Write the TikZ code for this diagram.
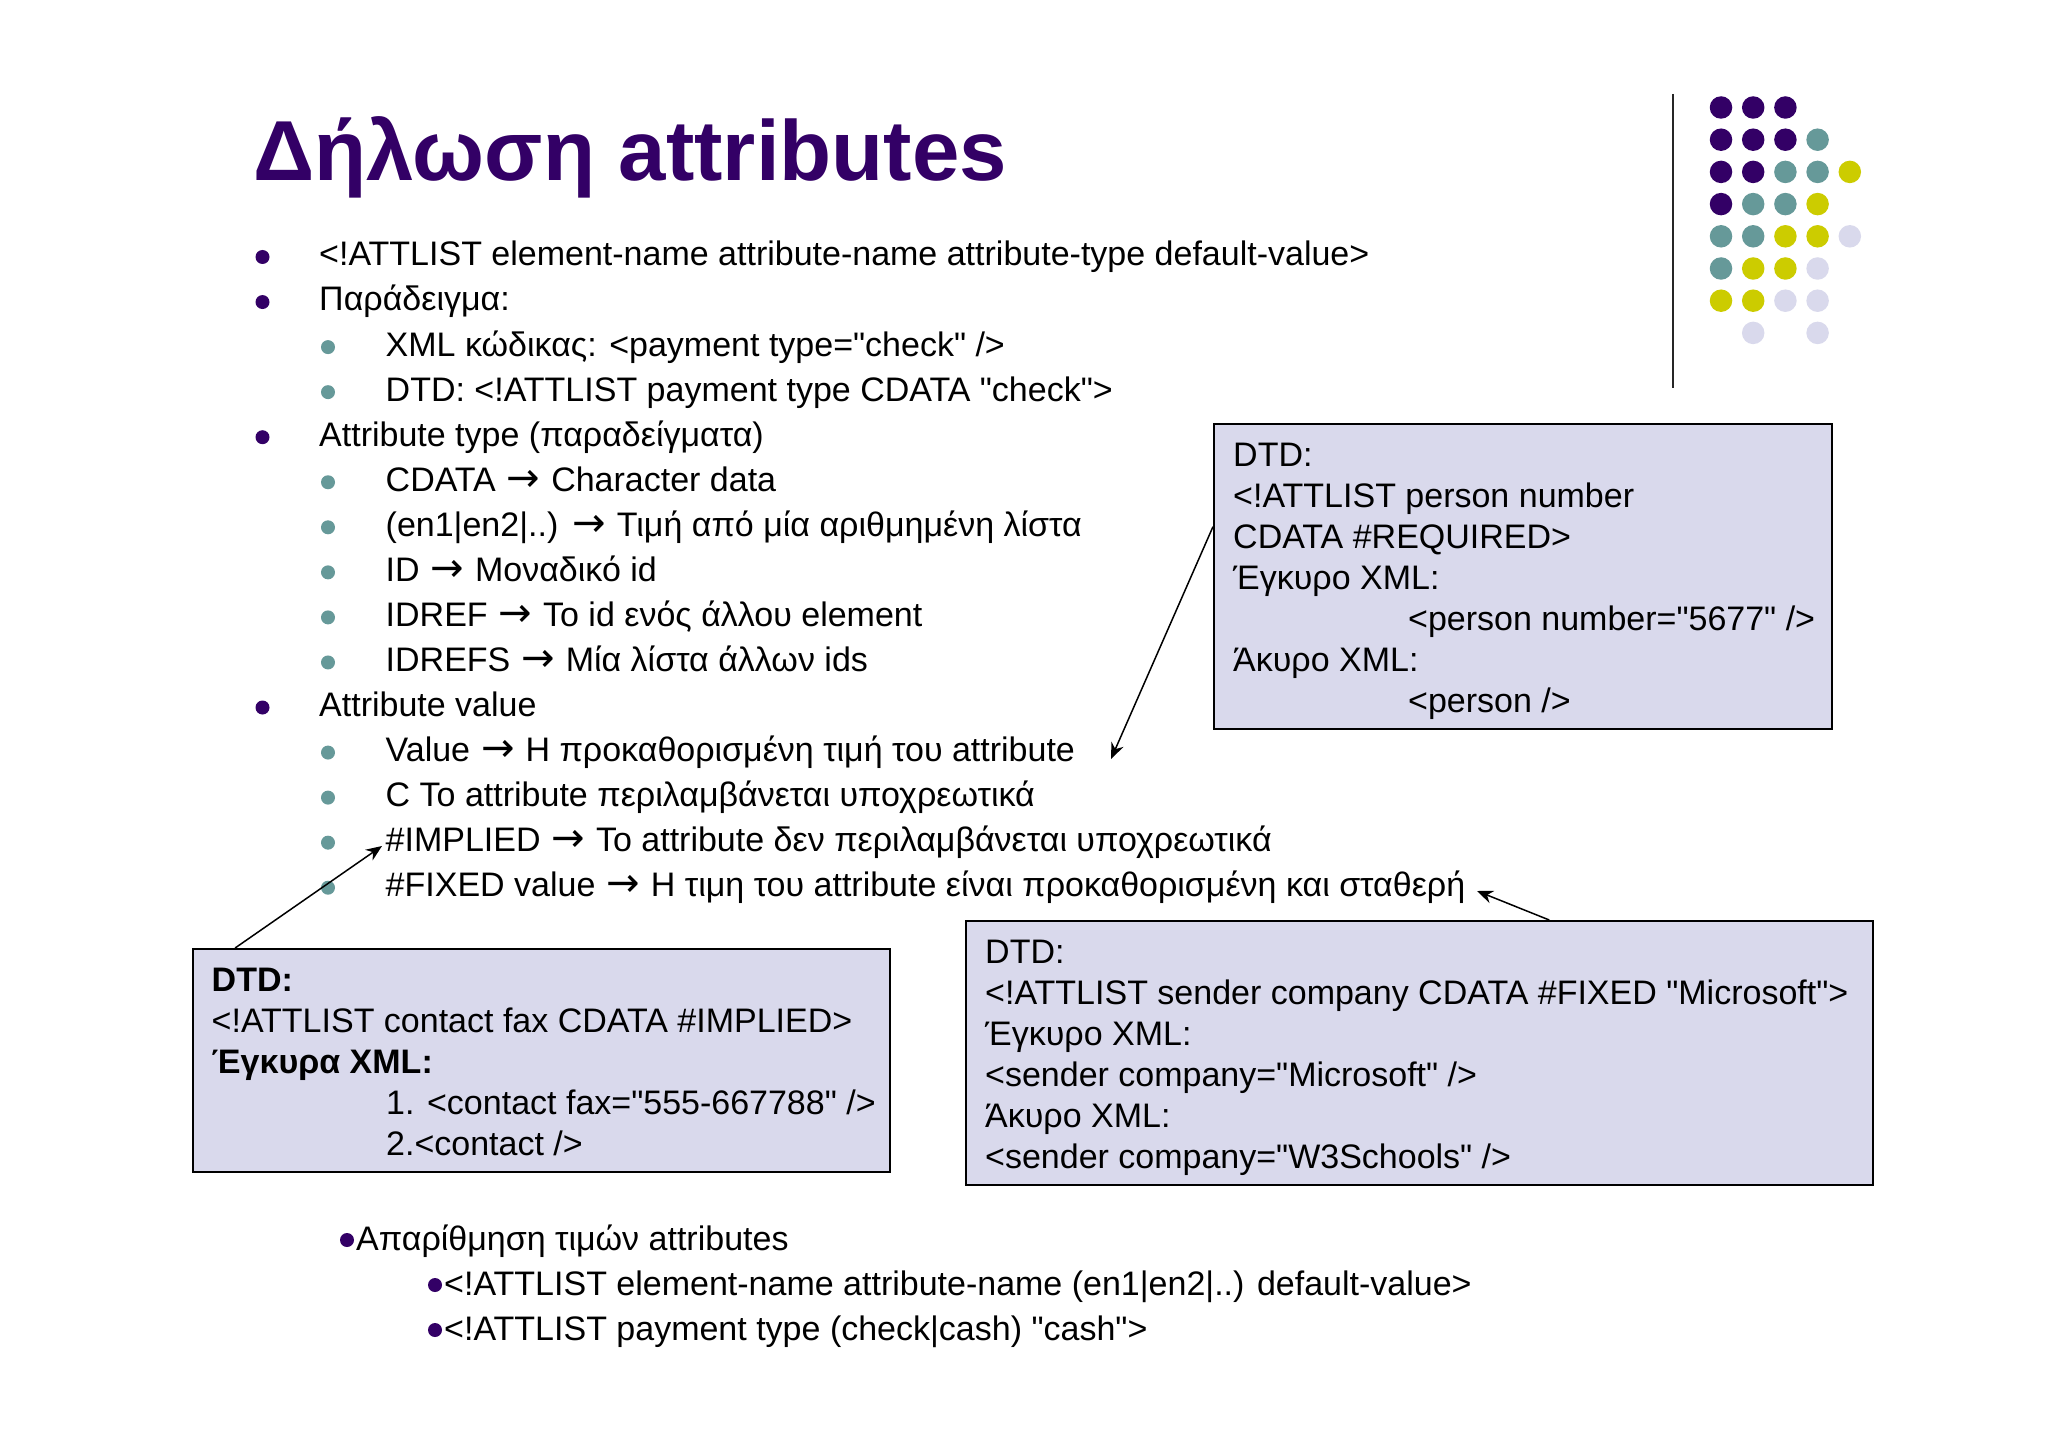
\documentclass[tikz,border=0pt]{standalone}
\usepackage{fontspec}
\setmainfont{Liberation Sans}[Ligatures=TeXOff]
\newfontfamily\arrowfont{DejaVu Sans}
\newcommand{\rarr}{\hspace{1.5pt}{\arrowfont\fontsize{40}{40}\selectfont →}\hspace{1.5pt}}
\usetikzlibrary{arrows.meta,calc}
\definecolor{cpurple}{HTML}{330066}
\definecolor{cteal}{HTML}{669999}
\definecolor{cyellow}{HTML}{CCCC00}
\definecolor{clilac}{HTML}{D9D9EC}
\tikzset{
  bodytext/.style={anchor=base west,inner sep=0pt,font=\fontsize{34}{40}\selectfont,text=black},
  boxtext/.style={anchor=base west,inner sep=0pt,font=\fontsize{34}{40}\selectfont,text=black},
  boxbold/.style={boxtext,font=\fontsize{34}{40}\selectfont\bfseries},
  titletext/.style={anchor=base west,inner sep=0pt,font=\fontsize{85.2}{96}\selectfont\bfseries,text=cpurple},
  callout/.style={draw=black,line width=1.6pt,fill=clilac,anchor=north west,inner sep=0pt},
  pointer/.style={draw=black,line width=1.5pt,-{Stealth[length=16pt,width=13pt]}},
  rulebar/.style={draw=black!85,line width=2pt},
  mainbullet/.style={circle,fill=cpurple,inner sep=0pt,minimum size=14pt},
  subbullet/.style={circle,fill=cteal,inner sep=0pt,minimum size=14pt},
  smallbullet/.style={circle,fill=cpurple,inner sep=0pt,minimum size=14pt},
  dot/.style={circle,inner sep=0pt,minimum size=22.5pt}
}
\begin{document}
\begin{tikzpicture}[x=1pt,y=-1pt]
\useasboundingbox (0,0) rectangle (2048,1447);
\fill[white] (0,0) rectangle (2048,1447);
% title
\node[titletext] (title) at (253,180.5) {Δήλωση attributes};
% rule and dots
\coordinate (ruletop) at (1673,94);
\coordinate (rulebot) at (1673,388);
\draw[rulebar] (ruletop) -- (rulebot);
\foreach \c/\r/\col [count=\i] in {
 1/1/cpurple,2/1/cpurple,3/1/cpurple,
 1/2/cpurple,2/2/cpurple,3/2/cpurple,4/2/cteal,
 1/3/cpurple,2/3/cpurple,3/3/cteal,4/3/cteal,5/3/cyellow,
 1/4/cpurple,2/4/cteal,3/4/cteal,4/4/cyellow,
 1/5/cteal,2/5/cteal,3/5/cyellow,4/5/cyellow,5/5/clilac,
 1/6/cteal,2/6/cyellow,3/6/cyellow,4/6/clilac,
 1/7/cyellow,2/7/cyellow,3/7/clilac,4/7/clilac,
 2/8/clilac,4/8/clilac}
 \node[dot,fill=\col] (dot\i) at ({1721+32.2*(\c-1)},{107.5+32.2*(\r-1)}) {};
% bullets
\foreach \y [count=\i] in {1,2,5,11}
 \node[mainbullet] (mb\i) at (262.5,{266-9+45.05*(\y-1)}) {};
\foreach \y [count=\i] in {3,4,6,7,8,9,10,12,13,14,15}
 \node[subbullet] (sb\i) at (328,{266-9+45.05*(\y-1)}) {};
% main text
\node[bodytext] (l1) at (319,266) {<!ATTLIST element-name attribute-name attribute-type default-value>};
\node[bodytext] (l2) at (319,311) {Παράδειγμα:};
\node[bodytext] (l3) at (385.5,356) {XML κώδικας: <payment type="check" />};
\node[bodytext] (l4) at (385.5,401) {DTD: <!ATTLIST payment type CDATA "check">};
\node[bodytext] (l5) at (319,446) {Attribute type (παραδείγματα)};
\node[bodytext] (l6) at (385.5,491) {CDATA \rarr{} Character data};
\node[bodytext] (l7) at (385.5,536) {(en1|en2|..) \rarr{} Τιμή από μία αριθμημένη λίστα};
\node[bodytext] (l8) at (385.5,581.5) {ID \rarr{} Μοναδικό id};
\node[bodytext] (l9) at (385.5,626.5) {IDREF \rarr{} Το id ενός άλλου element};
\node[bodytext] (l10) at (385.5,671.5) {IDREFS \rarr{} Μία λίστα άλλων ids};
\node[bodytext] (l11) at (319,716.5) {Attribute value};
\node[bodytext] (l12) at (385.5,761.5) {Value \rarr{} Η προκαθορισμένη τιμή του attribute};
\node[bodytext] (l13) at (385.5,806.5) {C Το attribute περιλαμβάνεται υποχρεωτικά};
\node[bodytext] (l14) at (385.5,851.5) {\#IMPLIED \rarr{} Το attribute δεν περιλαμβάνεται υποχρεωτικά};
\node[bodytext] (l15) at (385.5,896.5) {\#FIXED value \rarr{} Η τιμη του attribute είναι προκαθορισμένη και σταθερή};
% boxes
\node[callout,minimum width=618pt,minimum height=305pt] (boxA) at (1213,423) {};
\node[callout,minimum width=697pt,minimum height=223pt] (boxB) at (192,948) {};
\node[callout,minimum width=907pt,minimum height=264pt] (boxC) at (965,920) {};
% box A
\node[boxtext] (a1) at (1233,466) {DTD:};
\node[boxtext] (a2) at (1233,507) {<!ATTLIST person number};
\node[boxtext] (a3) at (1233,548) {CDATA \#REQUIRED>};
\node[boxtext] (a4) at (1233,589) {Έγκυρο XML:};
\node[boxtext] (a5) at (1408,630) {<person number="5677" />};
\node[boxtext] (a6) at (1233,671) {Άκυρο XML:};
\node[boxtext] (a7) at (1408,712) {<person />};
% box B
\node[boxbold] (b1) at (211.5,991) {DTD:};
\node[boxtext] (b2) at (211.5,1032) {<!ATTLIST contact fax CDATA \#IMPLIED>};
\node[boxbold] (b3) at (211.5,1073) {Έγκυρα XML:};
\node[boxtext] (b4) at (386,1114) {1. <contact fax="555-667788" />};
\node[boxtext] (b5) at (386,1155) {2.<contact />};
% box C
\node[boxtext] (c1) at (985,963) {DTD:};
\node[boxtext] (c2) at (985,1004) {<!ATTLIST sender company CDATA \#FIXED "Microsoft">};
\node[boxtext] (c3) at (985,1045) {Έγκυρο XML:};
\node[boxtext] (c4) at (985,1086) {<sender company="Microsoft" />};
\node[boxtext] (c5) at (985,1127) {Άκυρο XML:};
\node[boxtext] (c6) at (985,1168) {<sender company="W3Schools" />};
% arrows
\coordinate (aend) at (1111,759);
\coordinate (bend) at (382,846);
\coordinate (cend) at (1477,891);
\draw[pointer] ($(boxA.north west)!0.338!(boxA.south west)$) -- (aend);
\draw[pointer] ($(boxB.north west)!0.0617!(boxB.north east)$) -- (bend);
\draw[pointer] ($(boxC.north west)!0.643!(boxC.north east)$) -- (cend);
% bottom
\node[smallbullet] (s1) at (347,1240) {};
\node[smallbullet] (s2) at (435,1285) {};
\node[smallbullet] (s3) at (435,1330) {};
\node[bodytext] (m1) at (356,1250) {Απαρίθμηση τιμών attributes};
\node[bodytext] (m2) at (444,1295) {<!ATTLIST element-name attribute-name (en1|en2|..) default-value>};
\node[bodytext] (m3) at (444,1340) {<!ATTLIST payment type (check|cash) "cash">};
\end{tikzpicture}
\end{document}
